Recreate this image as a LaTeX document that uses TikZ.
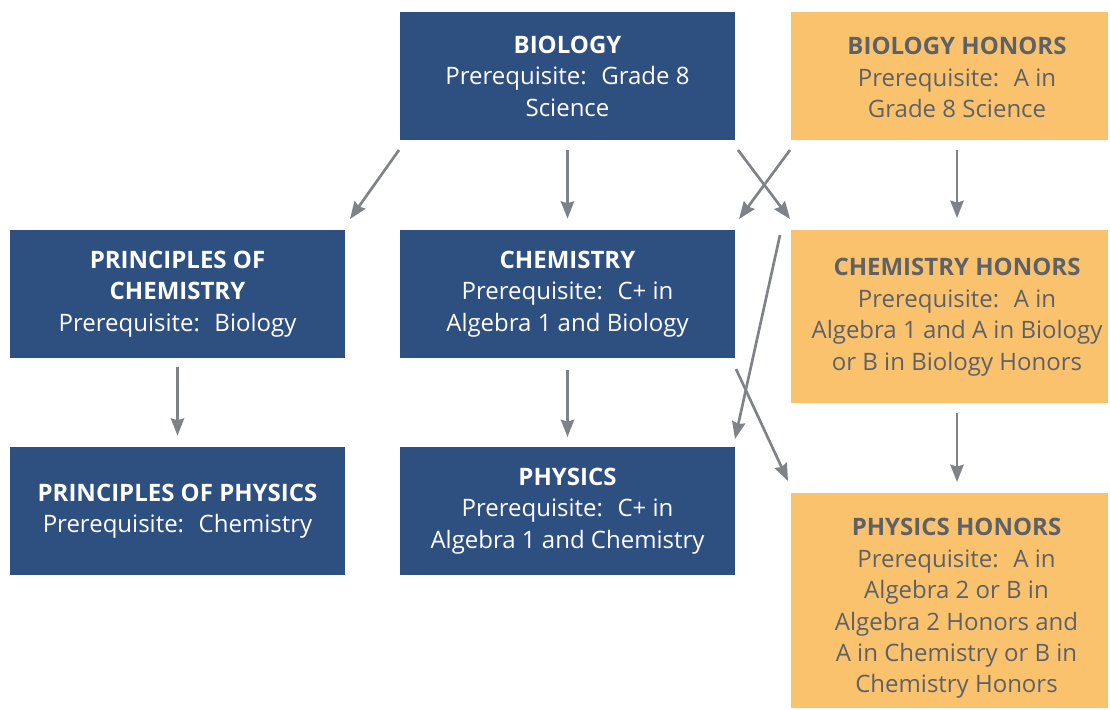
\documentclass[tikz,border=0pt]{standalone}
\usepackage{fontspec}
\setmainfont{Open Sans}
\usetikzlibrary{arrows.meta, calc}
\definecolor{courseblue}{HTML}{2E5081}
\definecolor{honorsorange}{HTML}{FBC26E}
\definecolor{honorstext}{HTML}{5D6168}
\definecolor{linkgray}{HTML}{7F8387}
\newdimen\pxu \pxu=0.75pt
\tikzset{
    course/.style={fill=courseblue, text=white, align=center, outer sep=0pt,
        minimum width=335\pxu, minimum height=128\pxu, inner sep=0pt,
        font=\fontsize{18}{23.6}\selectfont},
    honors/.style={fill=honorsorange, outer sep=0pt, inner sep=0pt,
        minimum width=317\pxu},
    honorslabel/.style={text=honorstext, align=center, inner sep=0pt,
        font=\fontsize{18}{23.6}\selectfont},
    link/.style={draw=linkgray, line width=2pt,
        -{Stealth[length=13pt, width=10pt, inset=1.5pt]}}
}
\begin{document}
\begin{tikzpicture}[x=0.75pt, y=-0.75pt]
    \useasboundingbox (0,0) rectangle (1110,710);
    % standard track
    \node[course] (bio) at (567.5,76) {\textbf{BIOLOGY}\\Prerequisite:~ Grade 8\\Science};
    \node[course] (pchem) at (177.5,294) {\textbf{PRINCIPLES OF}\\\textbf{CHEMISTRY}\\Prerequisite:~ Biology};
    \node[course] (chem) at (567.5,294) {\textbf{CHEMISTRY}\\Prerequisite:~ C+ in\\Algebra 1 and Biology};
    \node[course] (pphys) at (177.5,511) {\textbf{PRINCIPLES OF PHYSICS}\\Prerequisite:~ Chemistry};
    \node[course] (phys) at (567.5,511) {\textbf{PHYSICS}\\Prerequisite:~ C+ in\\Algebra 1 and Chemistry};
    % honors track
    \node[honors, minimum height=128\pxu] (bioh) at (949.5,76) {};
    \node[honors, minimum height=173\pxu] (chemh) at (949.5,316.5) {};
    \node[honors, minimum height=215\pxu] (physh) at (949.5,600.5) {};
    \node[honorslabel] (biohtext) at ([shift={(7.5,1.5)}]bioh.center)
        {\textbf{BIOLOGY HONORS}\\Prerequisite:~ A in\\Grade 8 Science};
    \node[honorslabel] (chemhtext) at ([shift={(7.5,0.5)}]chemh.center)
        {\textbf{CHEMISTRY HONORS}\\Prerequisite:~ A in\\Algebra 1 and A in Biology\\or B in Biology Honors};
    \node[honorslabel] (physhtext) at ([shift={(7,8)}]physh.center)
        {\textbf{PHYSICS HONORS}\\Prerequisite:~ A in\\Algebra 2 or B in\\Algebra 2 Honors and\\A in Chemistry or B in\\Chemistry Honors};
    % arrows
    \draw[link] ([shift={(-1,10)}]bio.south west) -- ([shift={(5,-11)}]pchem.north east);
    \draw[link] ([yshift=-7.5pt]bio.south) -- ([yshift=8.5pt]chem.north);
    \draw[link] ([shift={(3,10)}]bio.south east) -- ([shift={(-1,-11)}]chemh.north west);
    \draw[link] ([shift={(-1,10)}]bioh.south west) -- ([shift={(4,-11)}]chem.north east);
    \draw[link] ([shift={(7.5,10)}]bioh.south) -- ([shift={(7.5,-12)}]chemh.north);
    \draw[link] ([yshift=-7pt]pchem.south) -- ([yshift=8.5pt]pphys.north);
    \draw[link] ([yshift=-9pt]chem.south) -- ([yshift=7.5pt]phys.north);
    \draw[link] ([shift={(-11,5)}]chemh.north west) -- ([shift={(0,-8)}]phys.north east);
    \draw[link] ([shift={(1,11)}]chem.south east) -- ([shift={(-3,-12)}]physh.north west);
    \draw[link] ([shift={(7.5,10)}]chemh.south) -- ([shift={(7.5,-11)}]physh.north);
\end{tikzpicture}
\end{document}
